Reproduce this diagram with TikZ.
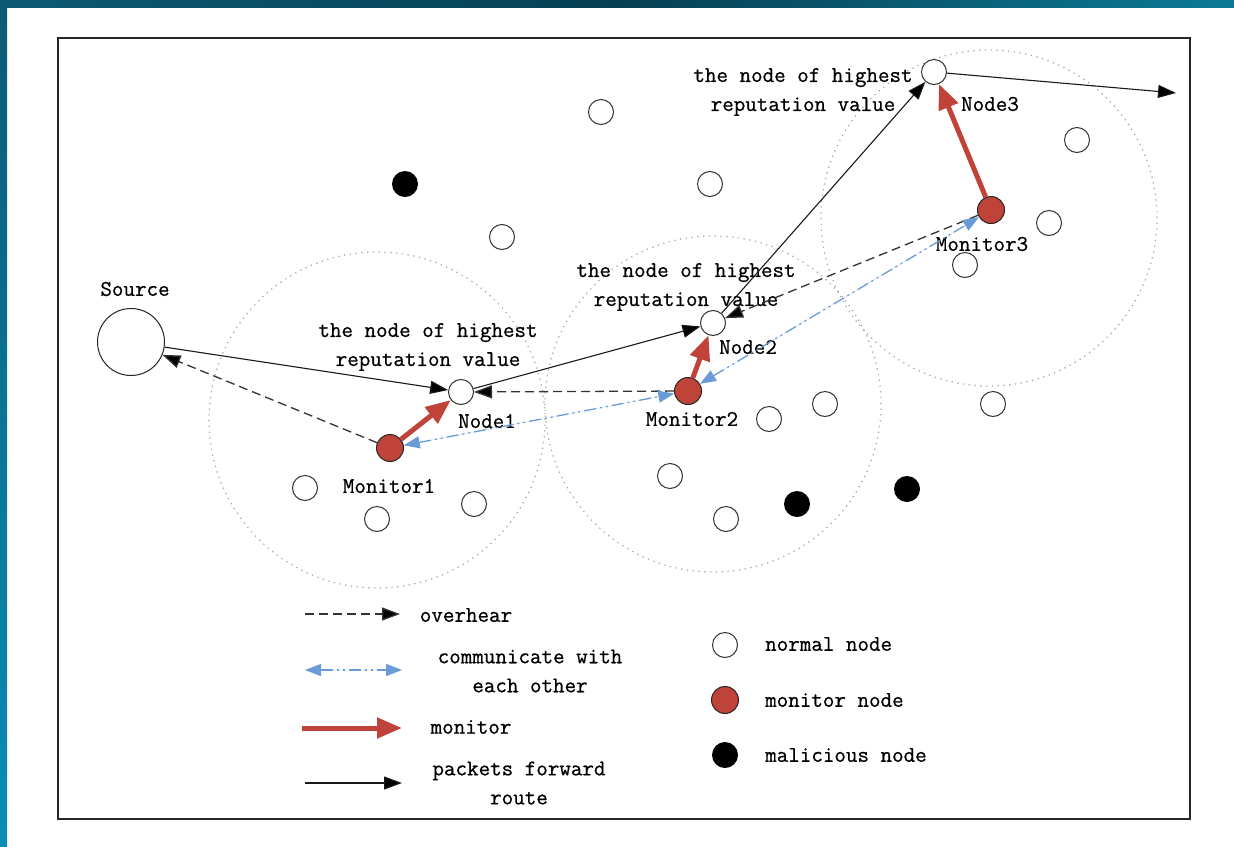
\documentclass[tikz,border=0pt]{standalone}
\usepackage{fontspec}
\usetikzlibrary{arrows.meta}
\newfontfamily\lmmono{Latin Modern Mono}[FakeBold=0.7]
\definecolor{myred}{HTML}{C0433A}
\definecolor{myblue}{HTML}{6A9BD6}
\definecolor{tealA}{HTML}{0B5A74}
\definecolor{tealB}{HTML}{073F52}
\definecolor{tealC}{HTML}{0B7A96}
\definecolor{tealD}{HTML}{0A8DB6}
\newcommand{\lmfont}{\fontsize{22.4}{29}\selectfont\lmmono}
\tikzset{
  normal/.style={circle, draw=black!80, fill=white, minimum size=25pt, inner sep=0pt, line width=1pt},
  monitor/.style={circle, draw=black!85, fill=myred, minimum size=27pt, inner sep=0pt, line width=1pt},
  malicious/.style={circle, fill=black, minimum size=26pt, inner sep=0pt},
  lbl/.style={font=\lmfont, inner sep=0pt, align=center},
  fwd/.style={-{Triangle[length=18pt,width=13pt,fill=black]}, line width=1.1pt, draw=black!90},
  over/.style={-{Triangle[length=18pt,width=13pt,fill=black]}, line width=1.3pt, draw=black!80, dash pattern=on 9pt off 5pt},
  comm/.style={{Triangle[length=16pt,width=12pt]}-{Triangle[length=16pt,width=12pt]}, line width=1.3pt, draw=myblue, fill=myblue, dash pattern=on 12pt off 4pt on 2pt off 4pt on 2pt off 4pt},
  mon/.style={-{Triangle[length=25pt,width=20pt]}, line width=5pt, draw=myred, fill=myred},
  zone/.style={circle, draw=gray!70, line width=1.2pt, dash pattern=on 1.3pt off 4.5pt, inner sep=0pt, minimum size=336pt}
}
\begin{document}
\begin{tikzpicture}[x=1pt,y=-1pt]
\useasboundingbox (0,0) rectangle (1234,846);
\fill[white] (0,0) rectangle (1234,846);
% teal frame bands
\shade[left color=tealA, right color=tealC, middle color=tealB] (0,0) rectangle (1234,7);
\shade[top color=tealA, bottom color=tealD] (0,0) rectangle (7,846);
% outer frame
\draw[line width=1.6pt, draw=black!85] (58,38) rectangle (1190,819);

% zones
\node[zone] (z1) at (377,420) {};
\node[zone] (z2) at (713,404) {};
\node[zone] (z3) at (989,218) {};

% main nodes
\node[circle, draw=black!85, fill=white, minimum size=67pt, inner sep=0pt, line width=1pt] (src) at (131,342) {};
\node[normal] (n1) at (461,392) {};
\node[normal] (n2) at (713,323) {};
\node[normal] (n3) at (934,72) {};
\node[monitor] (m1) at (390,448) {};
\node[monitor] (m2) at (688,391) {};
\node[monitor] (m3) at (991,210) {};

% malicious
\node[malicious] (b1) at (405,184) {};
\node[malicious] (b2) at (797,504) {};
\node[malicious] (b3) at (907,489) {};

% other normal nodes
\node[normal] (o1) at (601,112) {};
\node[normal] (o2) at (710,184) {};
\node[normal] (o3) at (502,237) {};
\node[normal] (o4) at (1077,140) {};
\node[normal] (o5) at (1049,223) {};
\node[normal] (o6) at (965,265) {};
\node[normal] (o7) at (993,404) {};
\node[normal] (o8) at (825,404) {};
\node[normal] (o9) at (769,419) {};
\node[normal] (o10) at (670,476) {};
\node[normal] (o11) at (726,519) {};
\node[normal] (o12) at (305,488) {};
\node[normal] (o13) at (377,519) {};
\node[normal] (o14) at (474,504) {};

% labels
\node[lbl] (tsrc) at (135,289) {Source};
\node[lbl] (t1) at (428,347) {the node of highest\\reputation value};
\node[lbl] (t2) at (686,287) {the node of highest\\reputation value};
\node[lbl] (t3) at (803,92) {the node of highest\\reputation value};
\node[lbl] (tn1) at (487,421) {Node1};
\node[lbl] (tn2) at (748,347) {Node2};
\node[lbl] (tn3) at (990,104) {Node3};
\node[lbl] (tm1) at (389,486) {Monitor1};
\node[lbl] (tm2) at (692,419) {Monitor2};
\node[lbl] (tm3) at (982,244) {Monitor3};

% connectors
\coordinate (out) at (1176,93);
\draw[fwd] (src) -- (n1);
\draw[fwd] (n1) -- (n2);
\draw[fwd] (n2) -- (n3);
\draw[fwd] (n3) -- (out);
\draw[over] (m1) -- (src);
\draw[over] (m2) -- (n1);
\draw[over] (m3) -- (n2);
\draw[comm] (m1) -- (m2);
\draw[comm] (m2) -- (m3);
\draw[mon] (m1) -- (n1);
\draw[mon] (m2) -- (n2);
\draw[mon] (m3) -- (n3);

% legend
\coordinate (la1) at (305,614); \coordinate (lb1) at (400,614);
\coordinate (la2) at (305,670); \coordinate (lb2) at (402,670);
\coordinate (la3) at (302,728); \coordinate (lb3) at (402,728);
\coordinate (la4) at (305,783); \coordinate (lb4) at (402,783);
\draw[over] (la1) -- (lb1);
\draw[comm] (la2) -- (lb2);
\draw[mon] (la3) -- (lb3);
\draw[fwd] (la4) -- (lb4);
\node[lbl] (lt1) at (466,615) {overhear};
\node[lbl] (lt2) at (530,671) {communicate with\\each other};
\node[lbl] (lt3) at (471,727) {monitor};
\node[lbl] (lt4) at (519,783) {packets forward\\route};
\node[normal] (lc1) at (725,645) {};
\node[monitor] (lc2) at (725,700) {};
\node[malicious] (lc3) at (725,755) {};
\node[lbl, anchor=west] (lct1) at (765,644) {normal node};
\node[lbl, anchor=west] (lct2) at (765,700) {monitor node};
\node[lbl, anchor=west] (lct3) at (765,755) {malicious node};
\end{tikzpicture}
\end{document}
